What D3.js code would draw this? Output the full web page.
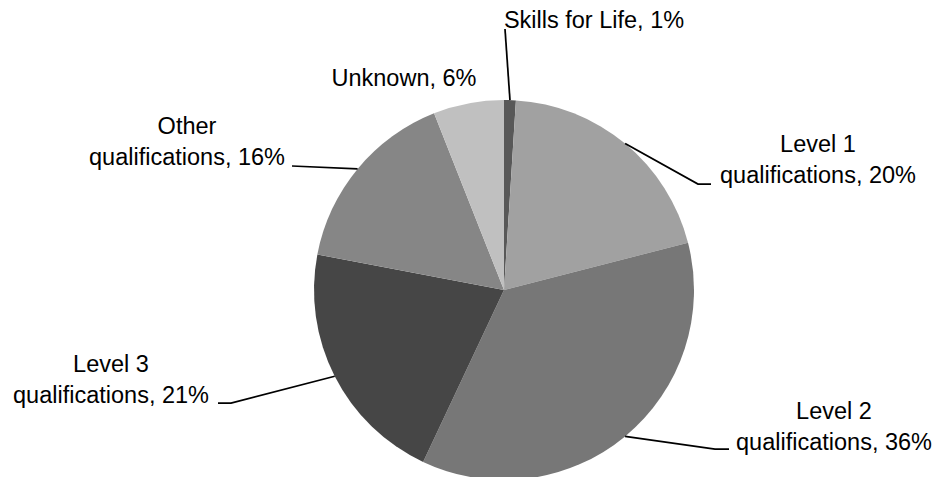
<!DOCTYPE html>
<html>
<head>
<meta charset="utf-8">
<script src="https://cdn.jsdelivr.net/npm/d3@7"></script>
<style>
  html, body { margin: 0; padding: 0; background: #ffffff; }
  svg { display: block; }
  text { font-family: "Liberation Sans", Arial, sans-serif; font-size: 23.5px; fill: #000; }
</style>
</head>
<body>
<svg id="chart" width="937" height="477"></svg>
<script>
// ---- data ----
const categories = ["Skills for Life", "Level 1", "Level 2", "Level 3", "Other", "Unknown"];
const values = [1, 20, 36, 21, 16, 6];
const labelLine1 = ["", "Level 1", "Level 2", "Level 3", "Other", ""];
const labelLine2 = ["Skills for Life, 1%", "qualifications, 20%", "qualifications, 36%", "qualifications, 21%", "qualifications, 16%", "Unknown, 6%"];
const colors = ["#585858", "#a1a1a1", "#777777", "#464646", "#868686", "#c0c0c0"];

// ---- layout (positions of labels & leader lines) ----
const cx = 504, cy = 290, radius = 190;
const labelPos = [
  { x: 594, y: 28, elbow: [505, 29], end: [505, 29] },
  { x: 818, y: 183, elbow: [698, 184], end: [711, 184] },
  { x: 834, y: 450, elbow: [715, 449], end: [729, 449] },
  { x: 111, y: 403, elbow: [231, 403], end: [218, 403] },
  { x: 187, y: 165, elbow: [292, 166], end: [292, 166] },
  { x: 404, y: 86, elbow: null, end: null }
];
const lineGap = 31;

const svg = d3.select("#chart");
const data = categories.map((c, i) => ({ name: c, value: values[i], i }));

const pie = d3.pie().value(d => d.value).sort(null).startAngle(0).endAngle(2 * Math.PI);
const arcs = pie(data);
const arc = d3.arc().innerRadius(0).outerRadius(radius);
const edgeArc = d3.arc().innerRadius(radius).outerRadius(radius);

const g = svg.append("g").attr("transform", `translate(${cx},${cy})`);
g.selectAll("path.slice")
  .data(arcs)
  .join("path")
  .attr("class", "slice")
  .attr("d", arc)
  .attr("fill", d => colors[d.data.i]);

// leader lines
const lineGen = d3.line();
svg.selectAll("path.leader")
  .data(arcs.filter(d => labelPos[d.data.i].elbow))
  .join("path")
  .attr("class", "leader")
  .attr("fill", "none")
  .attr("stroke", "#000")
  .attr("stroke-width", 1.75)
  .attr("d", d => {
    const c = edgeArc.centroid(d);
    const p = labelPos[d.data.i];
    return lineGen([[cx + c[0], cy + c[1]], p.elbow, p.end]);
  });

// labels
const lab = svg.selectAll("g.label")
  .data(arcs)
  .join("g")
  .attr("class", "label");
lab.append("text")
  .attr("x", d => labelPos[d.data.i].x)
  .attr("y", d => labelPos[d.data.i].y - lineGap)
  .attr("text-anchor", "middle")
  .text(d => labelLine1[d.data.i]);
lab.append("text")
  .attr("x", d => labelPos[d.data.i].x)
  .attr("y", d => labelPos[d.data.i].y)
  .attr("text-anchor", "middle")
  .text(d => labelLine2[d.data.i]);
</script>
</body>
</html>
